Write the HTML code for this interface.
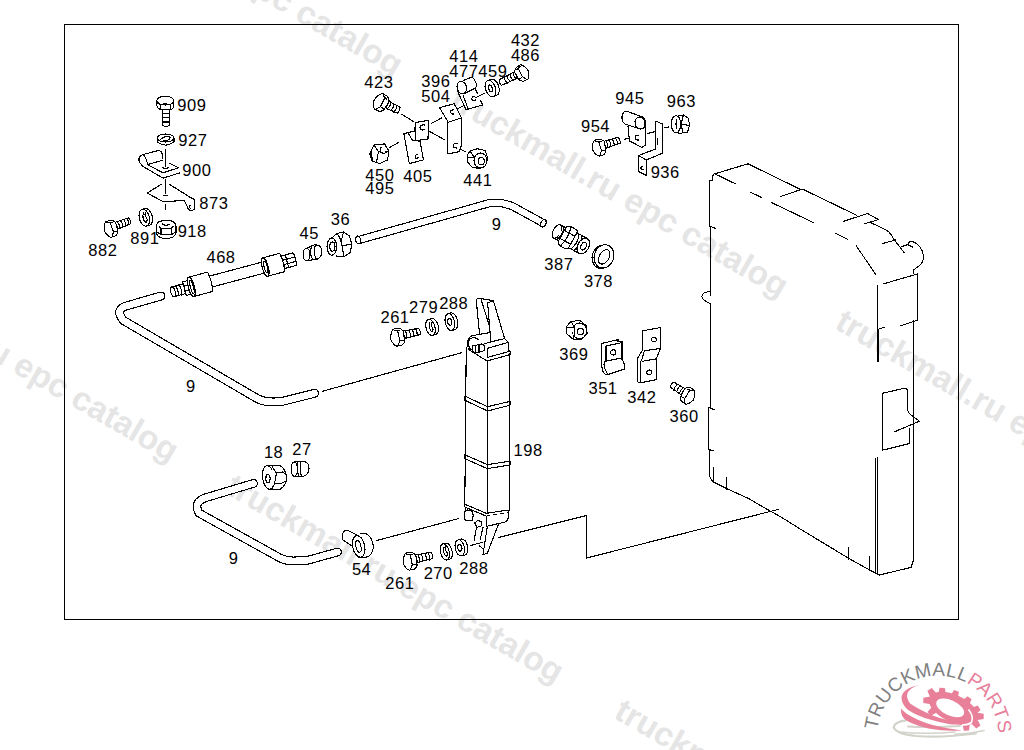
<!DOCTYPE html>
<html><head><meta charset="utf-8"><title>Parts diagram</title>
<style>
html,body{margin:0;padding:0;background:#fff;width:1024px;height:750px;overflow:hidden}
svg{display:block}
.wm{font-family:"Liberation Sans",sans-serif;font-weight:bold;font-size:33.3px;fill:#e5e5e5}
.lb{font-family:"Liberation Sans",sans-serif;font-size:16.5px;fill:#000;letter-spacing:0.5px}
.ln{fill:none;stroke:#000;stroke-width:1.1;stroke-linejoin:round;stroke-linecap:round;shape-rendering:crispEdges}
.wf{fill:#fff}
</style></head>
<body>
<svg width="1024" height="750" viewBox="0 0 1024 750">
<rect width="1024" height="750" fill="#fff"/>
<!-- WATERMARKS -->
<g class="wm">
<text transform="translate(62.7,-114.6) rotate(30)">truckmall.ru epc catalog</text>
<text transform="translate(448.1,106.6) rotate(30)">truckmall.ru epc catalog</text>
<text transform="translate(833.5,327.8) rotate(30)">truckmall.ru epc catalog</text>
<text transform="translate(-161.7,271.3) rotate(30)">truckmall.ru epc catalog</text>
<text transform="translate(223.7,492.5) rotate(30)">truckmall.ru epc catalog</text>
<text transform="translate(612.6,717.2) rotate(30)">truckmall.ru epc catalog</text>
</g>
<!-- BORDER -->
<rect x="64.5" y="24.5" width="894" height="595" fill="none" stroke="#000" stroke-width="1" shape-rendering="crispEdges"/>
<!-- PARTS -->
<g class="ln" id="parts">
<!-- 909 bolt -->
<g class="wf">
<path d="M156.8 100.5 V105.5 Q158 109.8 162.4 109.8 H169.6 Q173.6 109.5 173.6 105.5 V100.5"/>
<ellipse cx="165.2" cy="100.6" rx="8.4" ry="4.4"/>
<path d="M160.8 104.3 V109.6 M170.2 104.3 V109.6 M158 103.5 L161 104.5 L165 103.6 L169.8 104.5 L172.8 103.2"/>
<path d="M162.4 109.8 V125.4 Q166 127.6 169.6 125.4 V109.8 Z"/>
<path d="M162.4 113.4 H169.6 M162.4 117.8 H169.6 M162.4 122 H169.6"/>
</g>
<!-- 927 washer -->
<g class="wf">
<path d="M157.2 138 V141.8 Q165.6 148.5 174 141.8 V138"/>
<ellipse cx="165.6" cy="138" rx="8.4" ry="4"/>
<path d="M159.5 140.5 Q163 136 169 136.5 Q172 138.5 167 140.5 L160.5 141.5"/>
</g>
<!-- 900 clip -->
<path d="M165.5 149.2 V166"/>
<path d="M142.1 154.8 L158 150.6 Q162.5 150.5 162.4 156.5 L162.4 158"/>
<path d="M142.1 154.8 Q137.5 157 139.5 162.5 L143 166.5 L163.1 178.1 L179.5 173"/>
<path d="M144 155.7 Q146.2 158 147.7 164.6 L162.5 160.2 M147.7 164.6 L162.8 172.8 L178.6 167.8 L169.2 163"/>
<path d="M162.5 167.5 Q165.5 170 168.5 167.5"/>
<!-- 873 bracket -->
<path d="M165.5 180 V193.5 M164 195.4 H167 M165.5 205 V209.5"/>
<path d="M161.3 184.2 L147.3 193.1 L163.6 201.9 L184.1 200.3 L188.6 209.5 Q191 212 194.2 209.4 L194.4 199.5 L191.6 198.2 L169.2 184.2"/>
<path d="M190 205.5 Q188.6 207.5 190.5 208.5"/>
<!-- 918 nut -->
<g class="wf">
<path d="M156.3 226 V233 Q158 238.5 166 238.5 Q174.5 238.5 176 233 V226"/>
<path d="M158 224 L160.5 221.5 L171.5 221 L174.5 224 L172 228 L160.5 228.5 Z"/>
<path d="M156.5 226 Q156.5 220.5 166 220.5 Q176 220.5 176 226"/>
<path d="M161 228.5 V234.5 M171.5 228 V234 M157 232 L161 234.5 H171.5 L175.5 232"/>
<path d="M162.5 224 Q166 226.5 170 224"/>
</g>
<!-- bolts -->
<g class="wf" transform="translate(398 337.5) rotate(-11)"><path d="M5.7 -5.3 L22 -5.2 Q23.5 -2 22.4 1.3 L7 2.3 Z"/><path d="M8.5 -5.3 Q9.9 -1.5 8.5 2.2 M12 -5.3 Q13.4 -1.5 12 2.2 M15.5 -5.3 Q16.9 -1.5 15.5 2.2 M19 -5.3 Q20.4 -1.5 19 2.2"/><path d="M1.6 -9 L-3.1 -9.1 Q-6.6 -6.4 -7.4 0.7 Q-6 6.5 -2.9 8.3 L2.7 8.2 Q5.8 6 5.8 4.5 L6.5 -5.4 Q4.5 -8.5 1.6 -9 Z"/><path d="M1 -5.6 L1.2 3.5 L-1.1 7.1 M-2.1 -7.9 L3.4 -6 M1.2 3.5 L5.4 4"/></g>
<g class="wf" transform="translate(410.5 561.5) rotate(-11)"><path d="M5.7 -5.3 L22 -5.2 Q23.5 -2 22.4 1.3 L7 2.3 Z"/><path d="M8.5 -5.3 Q9.9 -1.5 8.5 2.2 M12 -5.3 Q13.4 -1.5 12 2.2 M15.5 -5.3 Q16.9 -1.5 15.5 2.2 M19 -5.3 Q20.4 -1.5 19 2.2"/><path d="M1.6 -9 L-3.1 -9.1 Q-6.6 -6.4 -7.4 0.7 Q-6 6.5 -2.9 8.3 L2.7 8.2 Q5.8 6 5.8 4.5 L6.5 -5.4 Q4.5 -8.5 1.6 -9 Z"/><path d="M1 -5.6 L1.2 3.5 L-1.1 7.1 M-2.1 -7.9 L3.4 -6 M1.2 3.5 L5.4 4"/></g>
<g class="wf" transform="translate(111.3 229) rotate(-19) scale(0.95)"><path d="M5.7 -5.3 L21 -5.2 Q22.5 -2 21.4 1.3 L7 2.3 Z"/><path d="M8.5 -5.3 Q9.9 -1.5 8.5 2.2 M12 -5.3 Q13.4 -1.5 12 2.2 M15.5 -5.3 Q16.9 -1.5 15.5 2.2 M19 -5.3 Q20.4 -1.5 19 2.2"/><path d="M1.6 -9 L-3.1 -9.1 Q-6.6 -6.4 -7.4 0.7 Q-6 6.5 -2.9 8.3 L2.7 8.2 Q5.8 6 5.8 4.5 L6.5 -5.4 Q4.5 -8.5 1.6 -9 Z"/><path d="M1 -5.6 L1.2 3.5 L-1.1 7.1 M-2.1 -7.9 L3.4 -6 M1.2 3.5 L5.4 4"/></g>
<g class="wf" transform="translate(599.5 147.8) rotate(-16) scale(0.95)"><path d="M5.7 -5.3 L22 -5.2 Q23.5 -2 22.4 1.3 L7 2.3 Z"/><path d="M8.5 -5.3 Q9.9 -1.5 8.5 2.2 M12 -5.3 Q13.4 -1.5 12 2.2 M15.5 -5.3 Q16.9 -1.5 15.5 2.2 M19 -5.3 Q20.4 -1.5 19 2.2"/><path d="M1.6 -9 L-3.1 -9.1 Q-6.6 -6.4 -7.4 0.7 Q-6 6.5 -2.9 8.3 L2.7 8.2 Q5.8 6 5.8 4.5 L6.5 -5.4 Q4.5 -8.5 1.6 -9 Z"/><path d="M1 -5.6 L1.2 3.5 L-1.1 7.1 M-2.1 -7.9 L3.4 -6 M1.2 3.5 L5.4 4"/></g>
<g class="wf" transform="translate(522 73.5) rotate(-27) scale(-0.92 0.92)"><path d="M5.7 -5.3 L25.5 -5.2 Q27.0 -2 25.9 1.3 L7 2.3 Z"/><path d="M8.5 -5.3 Q9.9 -1.5 8.5 2.2 M12 -5.3 Q13.4 -1.5 12 2.2 M15.5 -5.3 Q16.9 -1.5 15.5 2.2 M19 -5.3 Q20.4 -1.5 19 2.2"/><path d="M1.6 -9 L-3.1 -9.1 Q-6.6 -6.4 -7.4 0.7 Q-6 6.5 -2.9 8.3 L2.7 8.2 Q5.8 6 5.8 4.5 L6.5 -5.4 Q4.5 -8.5 1.6 -9 Z"/><path d="M1 -5.6 L1.2 3.5 L-1.1 7.1 M-2.1 -7.9 L3.4 -6 M1.2 3.5 L5.4 4"/></g>
<g class="wf" transform="translate(687.5 396) rotate(31) scale(-0.95 0.95)"><path d="M5.7 -5.3 L20 -5.2 Q21.5 -2 20.4 1.3 L7 2.3 Z"/><path d="M8.5 -5.3 Q9.9 -1.5 8.5 2.2 M12 -5.3 Q13.4 -1.5 12 2.2 M15.5 -5.3 Q16.9 -1.5 15.5 2.2"/><path d="M1.6 -9 L-3.1 -9.1 Q-6.6 -6.4 -7.4 0.7 Q-6 6.5 -2.9 8.3 L2.7 8.2 Q5.8 6 5.8 4.5 L6.5 -5.4 Q4.5 -8.5 1.6 -9 Z"/><path d="M1 -5.6 L1.2 3.5 L-1.1 7.1 M-2.1 -7.9 L3.4 -6 M1.2 3.5 L5.4 4"/></g>
<g class="wf" transform="translate(381 103) rotate(28)"><path d="M5.7 -5.3 L19 -5.2 Q20.5 -2 19.4 1.3 L7 2.3 Z"/><path d="M8.5 -5.3 Q9.9 -1.5 8.5 2.2 M12 -5.3 Q13.4 -1.5 12 2.2 M15.5 -5.3 Q16.9 -1.5 15.5 2.2"/><path d="M1.6 -9 L-3.1 -9.1 Q-6.6 -6.4 -7.4 0.7 Q-6 6.5 -2.9 8.3 L2.7 8.2 Q5.8 6 5.8 4.5 L6.5 -5.4 Q4.5 -8.5 1.6 -9 Z"/><path d="M1 -5.6 L1.2 3.5 L-1.1 7.1 M-2.1 -7.9 L3.4 -6 M1.2 3.5 L5.4 4"/></g>
<!-- 468 hose assembly, local coords along axis -->
<g transform="translate(172 292) rotate(-15)" class="wf">
<!-- left nipple -->
<path d="M1 -5 H15 V5 H1"/>
<ellipse cx="1" cy="0" rx="2.2" ry="5"/>
<path d="M5 -5.2 Q7 0 5 5.2 M8.5 -5.5 Q10.5 0 8.5 5.5 M12 -6 Q14 0 12 6"/>
<!-- hex -->
<path d="M13 -7 H19 V7 H13 Z M13 -2.5 H19 M13 2.5 H19"/>
<!-- left ferrule -->
<path d="M20 -10 H39.5 Q41.5 0 39.5 10 H20"/>
<ellipse cx="20" cy="0" rx="3" ry="10"/>
<ellipse cx="20.5" cy="0" rx="1.5" ry="7"/>
<!-- hose -->
<path d="M40.5 -5.6 H94 M40.5 5.6 H94" fill="none"/>
<!-- right ferrule -->
<path d="M96.5 -9.5 H114 Q116 0 114 9.5 H96.5"/>
<ellipse cx="96.5" cy="0" rx="3" ry="9.5"/>
<ellipse cx="97" cy="0" rx="1.5" ry="6"/>
<!-- right nut -->
<path d="M115 -6.5 H127 Q129 0 127 6.5 H115 Z"/>
<path d="M115 -2 H127 M115 2.5 H127 M119 -6.5 V6.5"/>
</g>
<!-- 45 sleeve -->
<g class="wf">
<path d="M306 248.5 L314 245 Q321.5 244 321.7 251 Q322 258 316 259.5 L307.5 260.5"/>
<ellipse cx="306.5" cy="254.5" rx="3.4" ry="6.2"/>
<path d="M312 246 Q308.5 253 313 260 M315.5 245 Q312.5 252 316.5 259.5"/>
</g>
<!-- 36 nut -->
<g class="wf">
<path d="M331 238.5 L337 233.5 L343.5 232 L349.5 236 L352 245 L350 252.5 L344 256.8 L336.5 256"/>
<ellipse cx="331.8" cy="246.6" rx="4.8" ry="8.6"/>
<ellipse cx="332.4" cy="246.6" rx="2.6" ry="4.6"/>
<path d="M337 234 Q341 238 342 246 L344 256.5 M342 246 L351.5 244 M343.5 232 L341.5 240"/>
</g>
<!-- upper tube 9 -->
<path d="M359 240 L488 203.5 Q500 201 513 206.5 L542.5 222.7" fill="none" stroke="#000" stroke-width="8.3" stroke-linecap="round"/>
<path d="M359 240 L488 203.5 Q500 201 513 206.5 L542.5 222.7" fill="none" stroke="#fff" stroke-width="6.1" stroke-linecap="round"/>
<ellipse cx="543.5" cy="223.3" rx="2.6" ry="4" transform="rotate(28 543.5 223.3)"/>
<ellipse cx="358.2" cy="240" rx="2.4" ry="4" transform="rotate(-15 358.2 240)"/>
<!-- 387 fitting -->
<g transform="translate(557 231.5) rotate(29)" class="wf">
<path d="M0 -7.5 H7 V7.5 H0"/>
<ellipse cx="0" cy="0" rx="3.8" ry="7.5"/>
<path d="M3.5 -7.5 Q7.5 0 3.5 7.5"/>
<path d="M6 -8 Q7 -11 10 -11 H15 Q18 -11 18.5 -8 V8 Q18 11 15 11 H10 Q7 11 6 8 Z"/>
<path d="M10 -11 Q13.5 0 10 11 M6.5 -4.5 H18.5 M6.5 4.5 H18.5"/>
<path d="M18 -8.5 H29.5 V8.5 H18 Z"/>
<path d="M20.5 -8.5 Q24.5 0 20.5 8.5 M24 -8.5 Q28 0 24 8.5 M27 -8.5 Q31 0 27 8.5"/>
<ellipse cx="30" cy="0" rx="5.5" ry="8.5"/>
<ellipse cx="30.3" cy="0" rx="2.6" ry="4"/>
</g>
<!-- 378 washer -->
<g class="wf">
<ellipse cx="602" cy="256.8" rx="9.8" ry="11.8" transform="rotate(15 602 256.8)"/>
<ellipse cx="604" cy="256.4" rx="9.8" ry="11.8" transform="rotate(15 604 256.4)"/>
<ellipse cx="604.2" cy="256.9" rx="4.8" ry="7.8" transform="rotate(30 604.2 256.9)"/>
</g>
<path d="M401.8 114.3 L413.5 121.5 M389.3 147.6 L398.9 142.3 M431.1 123.6 L442 117.8 M423.5 128 L445 140 M454.2 110 L463 106.2 M475.2 97.8 L484.4 93.2 M456.4 147.3 L465.2 151.7"/>
<!-- 405 bracket -->
<g class="wf">
<path d="M403.9 133.7 L414.6 131 L420 141.2 L423.5 159.9 L409.3 163.6 Z"/>
<path d="M407.7 132.7 L412.5 140.1 L420 141.2"/>
<path d="M415.7 122.5 L428.5 120.4 L428 139 L415.7 140.7 Z"/>
<path d="M415.5 123 L414.6 131"/>
<path d="M424.5 125 Q419.5 124.5 420 128 Q421 131 424.5 129.5"/>
<path d="M417.5 154.5 Q414.5 155 415.5 158 Q417 159 418 157.5"/>
</g>
<!-- 450 nut -->
<g class="wf">
<path d="M374 145 L384.5 143.9 L389 151 L387.5 160 L379.5 163.6 L372 161 L369.8 154 Z"/>
<path d="M374 145 L378.5 151.5 L376.5 162.5 M378.5 151.5 L389 151 M372 149 Q371 156 373 161"/>
<path d="M381 147.5 Q379.5 149 381 152.5 Q384.5 154 386 152.5"/>
</g>
<!-- 396/504 bracket -->
<g class="wf">
<path d="M448.3 122.3 L461.5 117.9 V145 M461.5 145 L459.3 151.7 L447.6 153.9 V122.3"/>
<path d="M439.5 107.7 L454.2 103.7 L461.5 117.9 L448.3 122.3 Z"/>
<path d="M454 110 Q450 109.5 450.5 112.5 Q451.5 114.5 454 114"/>
<path d="M457 143.5 Q453 143 453 146 Q454 148.5 457 148"/>
</g>
<!-- 441 nut -->
<g class="wf">
<path d="M470 151 L477.5 148.7 L485 150.5 L487.5 157 L486.5 164.5 L480 168.5 L472.5 167.5 L467.4 162 L467.5 155 Z"/>
<ellipse cx="480.5" cy="160.5" rx="6.5" ry="7.5"/>
<ellipse cx="481.3" cy="161.2" rx="3" ry="3.6"/>
<path d="M470 151 L474 157 M467.5 158 L474 157"/>
</g>
<!-- 414/477 clip -->
<g class="wf">
<path d="M457.2 90.3 L466 109.8 L482.7 105 L480.4 100.1 M477.5 93.8 L475.2 88.6"/>
<path d="M462.9 94.9 L468.3 109.2"/>
<path d="M463.2 80.6 L471.2 77.4 Q474.5 77.8 476.6 84.6 Q476.5 87.5 475.2 88 L464.3 93.8"/>
<ellipse cx="461.8" cy="87.6" rx="4.7" ry="6.3" transform="rotate(-15 461.8 87.6)"/>
<path d="M474.5 96.5 Q471.5 96.5 472 99.5 Q473.5 101 475.5 100"/>
</g>
<path d="M624.3 139.4 L634.5 136.5 M647.7 133.5 L659.4 130.6 M665 127.8 L668.5 127"/>
<!-- 945 clip -->
<g class="wf">
<path d="M628 126.2 L629.4 140.9 L641.8 147.4 L645.5 145.2 V124"/>
<path d="M626.5 111.1 L641.8 116.7 Q646 118.5 645.5 124 Q644.5 129.5 640 129 L625 124 Q621.5 122 622 116.5 Q623 111 626.5 111.1 Z"/>
<ellipse cx="640" cy="123" rx="5" ry="6" transform="rotate(-10 640 123)" fill="none"/>
<path d="M638.5 135.5 Q635 135 635 138 Q636 140.5 638.5 140"/>
</g>
<!-- 936 bracket -->
<g class="wf">
<path d="M655.8 121 L662.4 124 V153.3 L646.2 160 V175.3 L638.6 171.6 V155.5 L655.8 148.9 Z"/>
<path d="M655.8 121 V148.9 M638.6 155.5 L646.2 160"/>
<path d="M657.7 138.6 V144.5"/>
<path d="M643 166 Q640.5 166.5 641 169 Q642 170.5 643.5 169.5"/>
</g>
<!-- 963 nut -->
<g class="wf">
<path d="M676 116.5 L683.5 114.9 L688.5 118.5 L689.5 125.5 L687.5 132 L679.5 133.5 L673.5 131 L671.2 124 Z"/>
<ellipse cx="676" cy="124.2" rx="4.8" ry="8.5"/>
<path d="M683.5 114.9 L681 124 L683 133 M681 124 L689.5 125.5 M677 119 Q675 124 677 129"/>
</g>
<!-- RADIATOR -->
<g>
<!-- left edge -->
<path d="M709.6 180.2 H712.9 V175.5 Q713.5 173.8 715.8 173.5 L748 163.8 L799.6 189 L803 189.3 L856.5 215.2"/>
<path d="M709.6 180.2 V226.5 H710.5 V292 Q703 291 701.7 296.7 Q703.5 301 710.5 303.7 V407.5 H708.5 V449.3 H709.7 V476.5 L712.6 481.6 L726.6 488.5 L748.6 498.6 L763.2 507 L782.8 518.1 L802.3 530.3 L826.7 545 L848.7 558.4 L870.7 570.6 L878 574.3 L879.5 575 L911 567.4 L912.8 562 L913.9 560"/>
<path d="M710.5 292 V295.5 M710.5 226.5 L715.8 228.6 M708.5 407.5 L714.8 410 M708.5 449.3 L713.8 451 M713.3 467 V481.6 M726.6 478 V489 M848.2 547.4 V559.6 M869.4 557 V570.6 M875.5 458.3 V573"/>
<!-- inner dashed lines top -->
<path d="M715.8 174.3 L735.2 183.7 M750.4 192.3 L761.5 197.4 M771.5 202.5 L813.2 222.5 M836 233.6 L847.7 239.4 M780.3 196.6 L800.8 189.6 M856.5 246 L875.6 274.6"/>
<!-- tab -->
<path d="M843.3 221.4 L867.5 213.5 L878.5 219.6 L863.8 224 M871.2 222.8 L887.3 230.6 Q890.5 233 893.9 239.4 L904.2 252.6"/>
<path d="M882.9 243.4 L896.1 239.9"/>
<!-- filler cap -->
<path d="M901.2 246.8 L907.9 244.6 Q908 241.5 911.5 241.6 Q916 242 920 247 Q924 252 923.3 259 Q922 265 915.9 268 L913.7 270 V274"/>
<path d="M907.9 244.6 L912.5 247"/>
<!-- right column collar -->
<path d="M883.6 283.8 L917.3 274 V320.3 L900.5 325.9 M885 327.3 L879.4 328.7 M877.2 285.2 V328.7 M878 328.7 V362.3 M913.9 320.3 V560"/>
<!-- bracket tab -->
<path d="M882.8 393.2 L905 388.1 Q907.5 388.5 907.5 391 V410 Q908 413 911 415 L919.5 421.2 L894.9 431.6 M882.8 393.2 V450.1 L909.4 443.6 V428.2"/>
<path d="M877.2 457.6 V573"/>
</g>
<!-- COOLER 198 -->
<g class="wf">
<!-- prong bracket top -->
<path d="M479.5 333.8 L476.3 300.7 Q476.5 298.5 479 298.3 L493.4 300.7 L504.6 338.6 L490.5 342"/>
<path d="M481.1 299.6 L489.2 325.2 M487.6 302.8 L490.8 341.2 M487.6 302.8 L493.4 300.7"/>
<!-- cap -->
<path d="M466.5 351 L467.8 341 Q469 336.5 473 335.5 L489.2 332.7 M490.5 342 L504.6 338.6 L508.4 342.3 V349.8 L510.5 351.4 V354.5 L487 361 L467.8 349 Z" />
<path d="M487.6 348.2 L508.4 342.3 M487.6 348.2 V357.5 M487.2 357.5 L510 351.2"/>
<path d="M470 339 Q467.5 343 469.5 348 Q472 351 475.5 349.5 M470 339 Q474 336 478.5 339.5"/>
<path d="M472.5 346 L481.5 344 L484.5 346 V350.5 L476 353 Q472.5 352.5 472.5 349.5 Z M475.5 345.5 V352.5 M479 344.8 V351.8"/>
</g>
<!-- body -->
<path d="M466.2 350.8 L464.8 505 M487.6 360.4 V513 M509.4 354 V510"/>
<path d="M464.8 396.1 L487.5 406.7 L510 401.4 M464.8 400.2 L487.5 411 L510 405.2 M464.8 396.1 V400.2 M510 401.4 V405.2"/>
<path d="M464.8 454.8 L487.3 464.6 L510 461.2 M464.8 458.6 L487.3 468.6 L510 465 M464.8 454.8 V458.6 M510 461.2 V465"/>
<!-- bottom -->
<g class="wf">
<path d="M464.3 504 L486.3 513.3 L508.2 510 V512.9 L486.3 516.1 L464.3 506.8 Z"/>
<path d="M465.3 507.3 V512 M486.3 516 V526.4 L506.4 521.7 Q509 518 508.7 512.9"/>
<ellipse cx="467.2" cy="515.4" rx="2.9" ry="5.4"/>
<path d="M467.5 510 L471.5 510.5 Q474.5 515 472 520.5 L468 520.8"/>
<path d="M474.6 523 L478 520.3 L481.6 522 L481 526 L477 527.3 Z"/>
</g>
<path d="M476.5 527.3 L474.1 540.9 M483 527.3 L480.2 539.5 M487.2 527.3 L483 554.4 L487.2 553.5 L498.4 524.5 M479.7 546 L483.5 549.3"/>
<path d="M470.4 545.6 L482.5 542.3"/>
<!-- left tube 9 -->
<path id="t9a" d="M161 296 L128 305.5 Q114 309 123.5 320.5 L258 399 Q268 403.5 283 401.2 L314.5 393.3" fill="none" stroke="#000" stroke-width="9" stroke-linecap="round"/>
<path d="M161 296 L128 305.5 Q114 309 123.5 320.5 L258 399 Q268 403.5 283 401.2 L314.5 393.3" fill="none" stroke="#fff" stroke-width="6.8" stroke-linecap="round"/>
<path d="M322.3 391.3 L461.7 352.7"/>
<!-- lower tube 9 -->
<path d="M253.5 483.4 L205.5 497.8 Q193 502 199 513 L280 558 Q287 561.5 296 560.8 L306.6 560.6 L337.5 552" fill="none" stroke="#000" stroke-width="8.8" stroke-linecap="round"/>
<path d="M253.5 483.4 L205.5 497.8 Q193 502 199 513 L280 558 Q287 561.5 296 560.8 L306.6 560.6 L337.5 552" fill="none" stroke="#fff" stroke-width="6.6" stroke-linecap="round"/>
<!-- 54 banjo -->
<g class="wf">
<path d="M356 534.4 L348.5 530.7 Q343.5 529.5 342.8 533.8 L342.5 539.8 L351.8 545.8"/>
<path d="M360.2 533.5 H365.6 Q372.5 536.5 373.4 547 Q372.5 556.5 365 557.5 L358.7 557.4"/>
<ellipse cx="358.7" cy="546.4" rx="6" ry="11" transform="rotate(-12 358.7 546.4)"/>
<ellipse cx="358.4" cy="546.4" rx="2.5" ry="6" transform="rotate(-12 358.4 546.4)"/>
</g>
<path d="M376.2 540.7 L458.9 518.5"/>
<!-- 18 nut -->
<g class="wf">
<path d="M269 465.3 L280 465.5 Q285 468 286.8 477 Q286 486 280 489.3 L269 489.5"/>
<ellipse cx="268.5" cy="477.4" rx="6" ry="11.8" transform="rotate(-8 268.5 477.4)"/>
<ellipse cx="268" cy="478.6" rx="2.1" ry="4.2"/>
<path d="M272.5 467 L276.5 473 L274.5 484 L272 488.5 M276.5 473 L282.5 472 L285.5 474 M274.5 484 L281 483.5 L285 481.5"/>
</g>
<!-- 27 -->
<g class="wf">
<path d="M294 462 L304 461.3 Q309.5 463 309 469 Q308.5 475 303 476.4 L295 476.5"/>
<ellipse cx="294.3" cy="469.2" rx="3.2" ry="7.2"/>
<path d="M298 462 Q296.5 469 298.5 476.3 M301 461.5 Q299 469 301.5 476.5"/>
</g>
<!-- 369 nut -->
<g class="wf">
<path d="M571 321.5 L580 320.4 L586.5 326 L587.1 333.5 L582 339.2 L573.5 339.6 L567 334 L566 327 Z"/>
<ellipse cx="579.5" cy="331" rx="7" ry="8" />
<circle cx="580.4" cy="331.6" r="3.2"/>
<path d="M571 321.5 L575 328 L573.5 339.6 M566 327 L575 328"/>
</g>
<!-- 351 bracket -->
<g class="wf">
<path d="M601.2 343.6 L618 339.6 V341.5 L622 341 V359.5 Q625 363 624.4 369 L607 374.8 Q603 374 602 368 L601.2 343.6 Z"/>
<path d="M606 346 L621.2 342.8 M606 346 V361 M606 361.2 L622 357.8"/>
<path d="M605.2 361.2 Q603 364 605 369 L607.5 374"/>
<circle cx="613.2" cy="352.4" r="2.6"/>
</g>
<!-- 342 bracket -->
<g class="wf">
<path d="M642.5 330.8 L660.4 327.6 V348.4 L656.4 358.8 V379.6 L640.4 382.8 L637.7 382 V358 L642.5 350 Z"/>
<path d="M644.4 350.8 L660.4 348.4 M642.8 361.2 L656.4 358.8 M644.4 350.8 L641.5 360.5 M642.5 330.8 V350.5 M640.4 361.5 V382.8"/>
<circle cx="654" cy="339.6" r="2.4"/>
<circle cx="649.2" cy="372.4" r="2.4"/>
</g>
<path d="M498.75 537.5 L586.25 515.6 V558.1 L778.4 509.4"/>
<!-- washers -->
<g class="wf" transform="rotate(-12 449.8 322)"><ellipse cx="453.0" cy="322.0" rx="4.6" ry="8.6"/><path d="M449.8 313.4 H453.0 M449.8 330.6 H453.0"/><rect x="449.8" y="314.0" width="3.2" height="16.0" fill="#fff" stroke="none"/><ellipse cx="449.8" cy="322.0" rx="4.6" ry="8.6"/><ellipse cx="449.8" cy="322.0" rx="2.1" ry="3.3"/></g>
<g class="wf" transform="rotate(-15 430.5 327.4)"><ellipse cx="433.9" cy="327.4" rx="4.5" ry="8.2"/><path d="M430.5 319.2 H433.9 M430.5 335.6 H433.9"/><rect x="430.5" y="319.8" width="3.4" height="15.2" fill="#fff" stroke="none"/><ellipse cx="430.5" cy="327.4" rx="4.5" ry="8.2"/><path d="M431.0 322.9 Q427.8 327.4 430.8 332.3 Q433.6 329.9 432.1 327.4 Q430.9 324.9 433.0 322.9" fill="none"/></g>
<g class="wf" transform="rotate(-12 459.8 547.8)"><ellipse cx="463.2" cy="547.8" rx="4.6" ry="8.2"/><path d="M459.8 539.6 H463.2 M459.8 556.0 H463.2"/><rect x="459.8" y="540.2" width="3.4" height="15.2" fill="#fff" stroke="none"/><ellipse cx="459.8" cy="547.8" rx="4.6" ry="8.2"/><ellipse cx="459.8" cy="547.8" rx="2.1" ry="3.3"/></g>
<g class="wf" transform="rotate(-15 444.8 551.9)"><ellipse cx="447.8" cy="551.9" rx="4.3" ry="8.3"/><path d="M444.8 543.6 H447.8 M444.8 560.2 H447.8"/><rect x="444.8" y="544.2" width="3.0" height="15.4" fill="#fff" stroke="none"/><ellipse cx="444.8" cy="551.9" rx="4.3" ry="8.3"/><path d="M445.3 547.3 Q442.2 551.9 445.1 556.9 Q447.8 554.4 446.3 551.9 Q445.2 549.4 447.2 547.3" fill="none"/></g>
<g class="wf" transform="rotate(-20 490.5 88.5)"><ellipse cx="494.0" cy="88.5" rx="5" ry="8.5"/><path d="M490.5 80.0 H494.0 M490.5 97.0 H494.0"/><rect x="490.5" y="80.6" width="3.5" height="15.8" fill="#fff" stroke="none"/><ellipse cx="490.5" cy="88.5" rx="5" ry="8.5"/><ellipse cx="490.5" cy="88.5" rx="1.8" ry="3.6"/></g>
<g class="wf" transform="rotate(-15 144.3 217.7)"><ellipse cx="147.3" cy="217.7" rx="5" ry="8.7"/><path d="M144.3 209.0 H147.3 M144.3 226.4 H147.3"/><rect x="144.3" y="209.6" width="3.0" height="16.2" fill="#fff" stroke="none"/><ellipse cx="144.3" cy="217.7" rx="5" ry="8.7"/><path d="M144.8 212.9 Q141.3 217.7 144.6 222.9 Q147.8 220.3 146.1 217.7 Q144.8 215.1 147.1 212.9" fill="none"/></g>

</g>
<!-- LABELS -->
<g class="lb">
<text x="177.3" y="110.8">909</text>
<text x="178.3" y="145.8">927</text>
<text x="182.3" y="176.3">900</text>
<text x="199.3" y="209.3">873</text>
<text x="177.7" y="236.7">918</text>
<text x="130.3" y="243.9">891</text>
<text x="88.3" y="255.9">882</text>
<text x="206.5" y="262.8">468</text>
<text x="299.5" y="238.5">45</text>
<text x="330.8" y="224.8">36</text>
<text x="491.7" y="229.9">9</text>
<text x="544.3" y="270.0">387</text>
<text x="583.9" y="287.0">378</text>
<text x="510.9" y="46.1">432</text>
<text x="510.9" y="60.6">486</text>
<text x="449.3" y="62.2">414</text>
<text x="449.3" y="76.5">477459</text>
<text x="421.3" y="87.0">396</text>
<text x="421.3" y="101.8">504</text>
<text x="364.3" y="87.9">423</text>
<text x="365.3" y="180.9">450</text>
<text x="365.3" y="194.1">495</text>
<text x="403.3" y="182.0">405</text>
<text x="463.3" y="186.4">441</text>
<text x="615.3" y="103.8">945</text>
<text x="666.8" y="107.0">963</text>
<text x="581.0" y="131.6">954</text>
<text x="650.7" y="178.3">936</text>
<text x="380.5" y="323.2">261</text>
<text x="409.1" y="313.3">279</text>
<text x="439.2" y="309.2">288</text>
<text x="186.0" y="392.2">9</text>
<text x="559.3" y="359.6">369</text>
<text x="588.5" y="394.3">351</text>
<text x="627.3" y="403.1">342</text>
<text x="669.6" y="421.5">360</text>
<text x="513.6" y="456.3">198</text>
<text x="263.9" y="457.9">18</text>
<text x="292.3" y="455.3">27</text>
<text x="228.7" y="563.9">9</text>
<text x="351.9" y="575.3">54</text>
<text x="385.3" y="588.9">261</text>
<text x="423.7" y="578.9">270</text>
<text x="459.3" y="574.1">288</text>
</g>
<!-- LOGO -->
<g id="logo">
<defs><path id="arcp" d="M876.8 736.8 A61 61 0 0 1 998.8 736.8"/></defs>
<!-- gray swooshes -->
<g fill="none" stroke="#d3d3cb" stroke-linecap="round">
<path d="M893.5 727.5 Q894.5 721.5 906 720.3" stroke-width="2.2"/>
<path d="M894 728 Q897 734 916 736 Q942 738 976 733.5" stroke-width="2.2"/>
<path d="M908 726.5 Q932 728 960 726" stroke-width="1.8"/>
<path d="M900 732 Q925 734.5 955 732" stroke-width="1.4"/>
<path d="M955 734.3 Q972 733.5 984 730.5" stroke-width="1.6"/>
</g>
<!-- pink swooshes -->
<g fill="#e8809a">
<path d="M918.8 685.2 Q903 688 901.5 697.3 Q901.5 704 907.5 709.5 Q917 716 930 719.5 Q940 722.5 950 724.2 Q960 725 968 723.5 Q958 723 950 720.7 Q940 718.5 932.7 715.5 Q918 709 910.1 703.4 Q906 698 907.5 693 Q910.5 687.5 918.8 685.2 Z"/>
<path d="M901 708.6 Q900.5 716 905 719.5 Q912 724.5 928.3 728.5 Q945 731.5 962 730.5 Q945 728.5 932.7 725.1 Q918 721 906.7 713.8 Q903 711 901 708.6 Z"/>
</g>
<!-- gear -->
<g fill="#e8809a">
<path d="M930.8 704.2 L923.3 703.0 L923.3 697.8 L930.8 696.6 Z M930.4 697.7 L927.4 690.7 L931.8 687.9 L936.8 693.7 Z M938.3 693.8 L939.6 687.8 L944.8 687.9 L945.9 693.9 Z M950.9 695.1 L954.0 690.0 L958.9 691.8 L958.0 697.7 Z M963.0 700.3 L967.4 696.3 L971.6 699.3 L969.2 704.7 Z M972.3 707.6 L977.8 705.5 L980.6 710.0 L976.3 714.0 Z M976.1 712.6 L983.7 713.7 L983.7 718.9 L976.2 720.2 Z M977.0 718.7 L980.5 725.4 L976.3 728.5 L970.9 723.2 Z M970.0 723.0 L969.0 730.6 L963.8 730.7 L962.4 723.3 Z M937.3 712.0 L930.9 715.9 L927.5 712.0 L932.4 706.2 Z"/>
<ellipse cx="953.5" cy="708.5" rx="26.5" ry="13.6" transform="rotate(25 953.5 708.5)"/>
<ellipse cx="950.2" cy="707.8" rx="15" ry="7.6" transform="rotate(25 950.2 707.8)" fill="#fff"/>
</g>
<path d="M968.5 709.5 Q974 716 971.5 722.5 Q968 725 962 725" fill="none" stroke="#fff" stroke-width="1.6"/>
<!-- arc text -->
<text font-family="Liberation Sans, sans-serif" font-size="19" letter-spacing="0.35" fill="#808080"><textPath href="#arcp" startOffset="6.75">TRUCKMALL<tspan fill="#e8809a">PARTS</tspan></textPath></text>

</g>
</svg>
</body></html>
